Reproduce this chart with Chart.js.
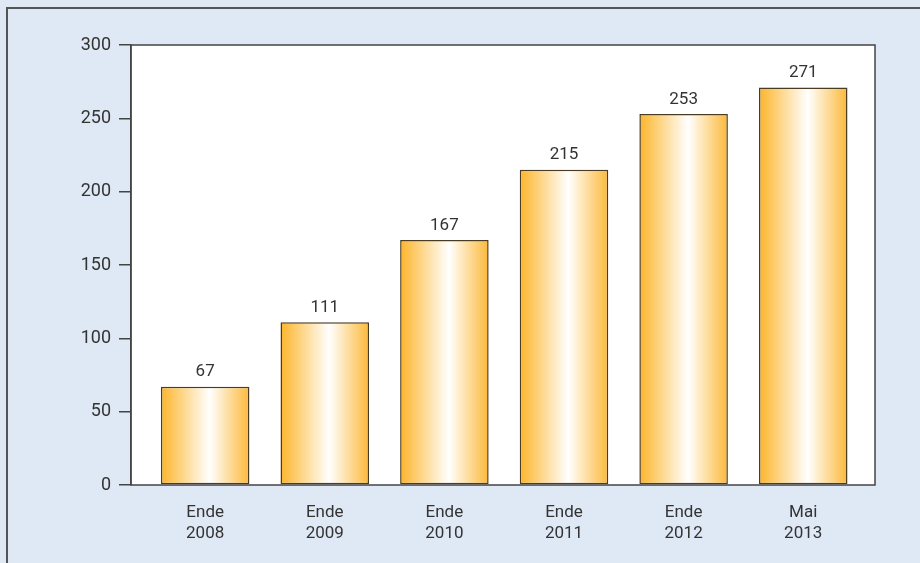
<!DOCTYPE html>
<html>
<head>
<meta charset="utf-8">
<script src="https://cdn.jsdelivr.net/npm/chart.js@4.4.0/dist/chart.umd.min.js"></script>
<style>
  html, body { margin: 0; padding: 0; background: #dfe8f5; }
  body { width: 920px; height: 563px; position: relative; overflow: hidden; }
  .frame { position: absolute; left: 6px; top: 7px; right: -4px; bottom: -4px; border-top: 2px solid #555; border-left: 2px solid #555; }
  #wrap { position: absolute; left: 0; top: 0; width: 920px; height: 563px; }
</style>
</head>
<body>
<div class="frame"></div>
<div id="wrap"><canvas id="chart-bars" width="920" height="563"></canvas></div>
<script>
// Category labels (two lines each)
const categories = [
  ['Ende', '2008'],
  ['Ende', '2009'],
  ['Ende', '2010'],
  ['Ende', '2011'],
  ['Ende', '2012'],
  ['Mai', '2013'],
]
const values = [67, 111, 167, 215, 253, 271]
const yTicks = [0, 50, 100, 150, 200, 250, 300]

const FONT = "Roboto, 'DejaVu Sans', sans-serif"
const BAR_PCT = 0.74

// bar fill: orange at the edges, white near the middle
function barGradient(context) {
  const chart = context.chart
  const xScale = chart.scales.x
  if (!xScale || context.dataIndex === undefined) return '#fdb72c'
  const cx = xScale.getPixelForValue(context.dataIndex)
  const w = (xScale.getPixelForValue(1) - xScale.getPixelForValue(0)) * BAR_PCT
  if (!isFinite(cx) || !isFinite(w) || w <= 0) return '#fdb72c'
  const g = chart.ctx.createLinearGradient(cx - w / 2, 0, cx + w / 2, 0)
  g.addColorStop(0, '#fcb52a')
  g.addColorStop(0.55, '#ffffff')
  g.addColorStop(1, '#fcb93a')
  return g
}

const plotFrame = {
  id: 'plotFrame',
  beforeDraw(chart) {
    const { ctx, chartArea: a } = chart
    ctx.save()
    ctx.fillStyle = '#ffffff'
    ctx.fillRect(a.left, a.top, a.right - a.left, a.bottom - a.top)
    ctx.restore()
  },
  afterDraw(chart) {
    const { ctx, chartArea: a } = chart
    ctx.save()
    ctx.strokeStyle = '#444444'
    ctx.lineWidth = 1.5
    ctx.strokeRect(a.left, a.top, a.right - a.left, a.bottom - a.top)
    ctx.restore()
  },
}

const valueLabels = {
  id: 'valueLabels',
  afterDatasetsDraw(chart) {
    const { ctx } = chart
    const meta = chart.getDatasetMeta(0)
    ctx.save()
    ctx.fillStyle = '#333333'
    ctx.font = `17px ${FONT}`
    ctx.textAlign = 'center'
    ctx.textBaseline = 'bottom'
    meta.data.forEach((bar, i) => {
      ctx.fillText(String(values[i]), bar.x, bar.y - 6)
    })
    ctx.restore()
  },
}

const ctx = document.getElementById('chart-bars')

new Chart(ctx, {
  type: 'bar',
  data: {
    datasets: [
      {
        data: values.map((v, i) => ({ x: i, y: v })),
        backgroundColor: barGradient,
        borderColor: '#4a3c22',
        borderWidth: 1.5,
        borderSkipped: false,
        barPercentage: BAR_PCT,
        categoryPercentage: 1,
      },
    ],
  },
  options: {
    responsive: false,
    animation: false,
    devicePixelRatio: 1,
    layout: { padding: { left: 0, right: 45, top: 45, bottom: 0 } },
    plugins: {
      legend: { display: false },
      tooltip: { enabled: false },
    },
    scales: {
      x: {
        type: 'linear',
        offset: false,
        min: -0.62,
        max: 5.6,
        afterBuildTicks(scale) {
          scale.ticks = categories.map((c, i) => ({ value: i }))
        },
        grid: { display: false, offset: false },
        border: { display: false },
        ticks: {
          color: '#333333',
          font: { family: FONT, size: 17, lineHeight: 1.24 },
          padding: 9,
          maxRotation: 0,
          autoSkip: false,
          callback: (v) => categories[v],
        },
        afterFit(scale) {
          scale.height = 78
        },
      },
      y: {
        min: 0,
        max: 300,
        afterBuildTicks(scale) {
          scale.ticks = yTicks.map((v) => ({ value: v }))
        },
        grid: {
          drawOnChartArea: false,
          drawTicks: true,
          tickLength: 12,
          color: '#444444',
          lineWidth: 1.5,
        },
        border: { display: true, color: '#444444', width: 1.5 },
        ticks: {
          color: '#333333',
          font: { family: FONT, size: 18 },
          padding: 8,
        },
        afterFit(scale) {
          scale.width = 131
        },
      },
    },
  },
  plugins: [plotFrame, valueLabels],
})
</script>
</body>
</html>
